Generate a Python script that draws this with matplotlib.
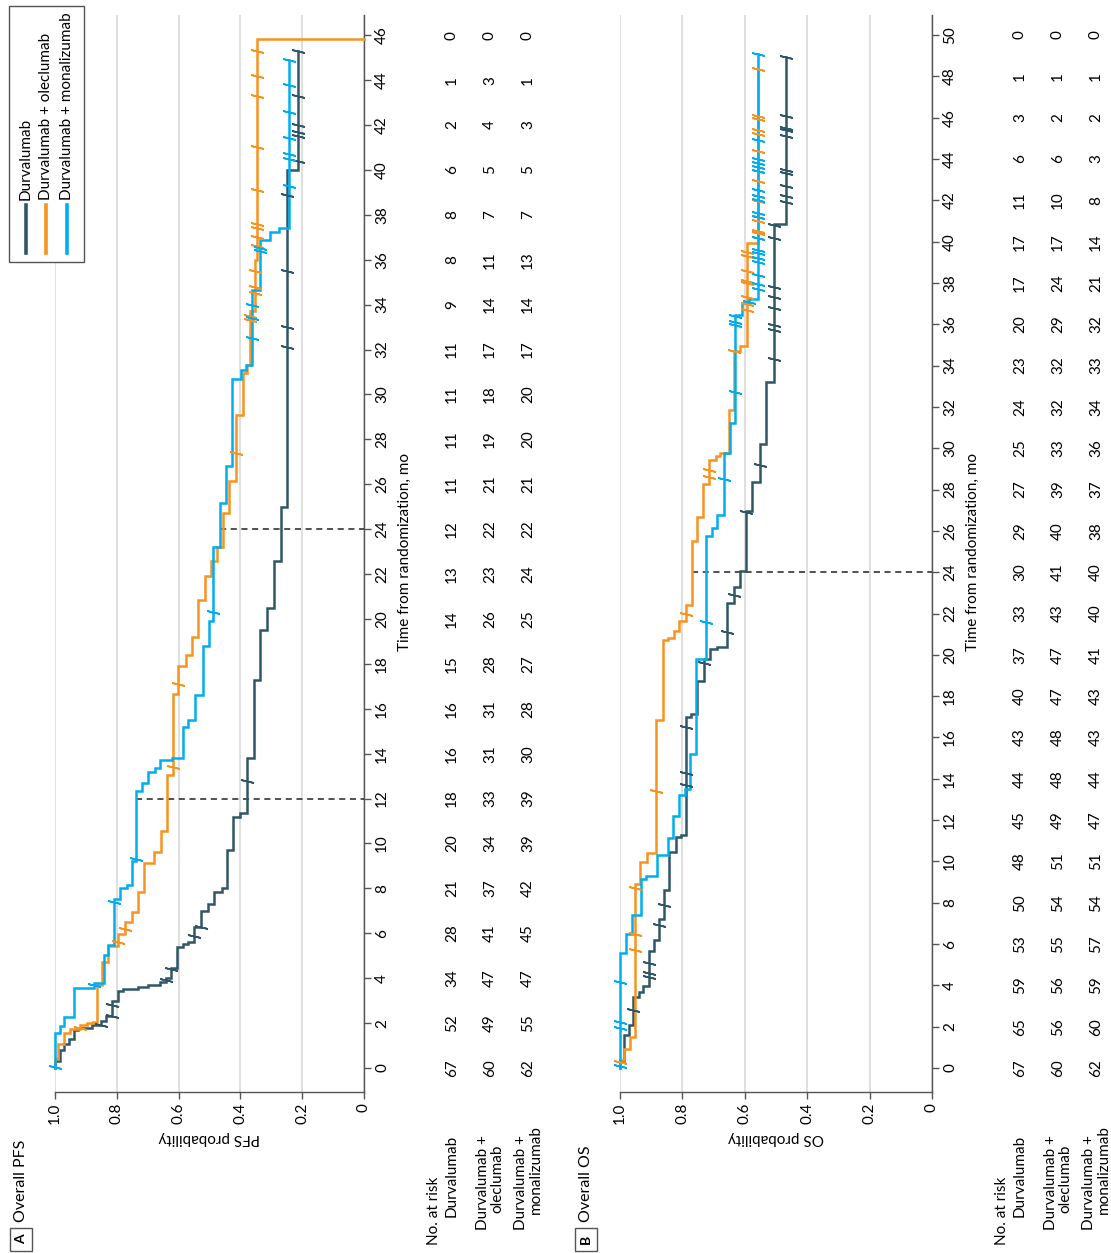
import numpy as np
import matplotlib
matplotlib.use('Agg')
import matplotlib.pyplot as plt
from matplotlib import font_manager, transforms
from matplotlib.patches import Rectangle
from matplotlib.lines import Line2D

# pick the font closest to the reference face
names = {f.name for f in font_manager.fontManager.ttflist}
fam = next(n for n in ['Lato', 'Roboto', 'DejaVu Sans'] if n in names)
plt.rcParams['font.family'] = [fam, 'DejaVu Sans']
plt.rcParams['font.size'] = 11

DARK = '#2f5767'
ORANGE = '#f7931e'
BLUE = '#00aeef'
AXC = '#555555'

groups = ['Durvalumab', 'Durvalumab + oleclumab', 'Durvalumab + monalizumab']

# ---- Panel A: PFS ----
pfs_dur_t = [0.3, 0.8, 1.05, 1.3, 1.7, 1.8, 1.9, 2.1, 2.3, 3.0, 3.45, 3.5, 3.6, 3.7, 3.85, 4.0, 4.45,
             5.4, 5.5, 5.6, 6.3, 7.0, 7.3, 7.85, 8.0, 9.7, 11.2, 11.35, 13.8, 17.3, 19.5, 20.5,
             22.6, 25.0, 40.0]
pfs_dur_s = [0.985, 0.97, 0.955, 0.94, 0.925, 0.88, 0.85, 0.835, 0.815, 0.795, 0.78, 0.73, 0.70, 0.66,
             0.64, 0.625, 0.606, 0.585, 0.568, 0.55, 0.527, 0.504, 0.485, 0.461, 0.444, 0.425, 0.401,
             0.378, 0.356, 0.337, 0.313, 0.291, 0.27, 0.248, 0.212]
pfs_dur_c = [1.9, 2.3, 2.8, 3.9, 4.4, 5.9, 6.3, 12.8, 32.1, 33.0, 35.5, 38.9, 40.4, 41.5, 41.7, 42.0,
             43.3, 45.3]

pfs_ole_t = [0.39, 1.06, 1.58, 1.75, 1.9, 2.0, 2.05, 3.69, 4.7, 5.45, 5.97, 6.49, 6.93, 7.83, 9.14,
             9.61, 10.55, 13.04, 16.64, 17.92, 18.39, 19.21, 20.85, 21.9, 22.6, 23.2, 24.7, 26.15,
             29.07, 30.97, 31.3, 33.7, 36.0, 45.85]
pfs_ole_s = [0.99, 0.97, 0.951, 0.92, 0.895, 0.878, 0.863, 0.849, 0.827, 0.795, 0.773, 0.752, 0.733,
             0.712, 0.68, 0.658, 0.639, 0.617, 0.601, 0.576, 0.558, 0.536, 0.515, 0.496, 0.477, 0.457,
             0.436, 0.414, 0.393, 0.38, 0.369, 0.353, 0.345, 0.0]
pfs_ole_c = [1.8, 5.6, 6.2, 13.4, 17.1, 27.4, 33.3, 33.5, 34.5, 34.8, 35.5, 36.6, 37.0, 37.4, 37.6,
             39.1, 41.0, 43.3, 44.2, 45.3]

pfs_mon_t = [1.58, 1.88, 2.29, 3.54, 3.78, 5.03, 5.48, 7.53, 8.0, 8.15, 9.24, 12.33, 12.7, 13.18,
             13.34, 13.7, 13.8, 15.18, 15.48, 16.61, 18.8, 19.9, 23.2, 25.17, 26.8, 30.67, 31.08,
             31.3, 34.63, 36.87, 37.23, 37.4]
pfs_mon_s = [0.985, 0.97, 0.94, 0.873, 0.843, 0.827, 0.808, 0.789, 0.768, 0.752, 0.738, 0.717, 0.698,
             0.676, 0.66, 0.622, 0.585, 0.569, 0.547, 0.52, 0.501, 0.488, 0.466, 0.447, 0.426, 0.399,
             0.382, 0.364, 0.337, 0.304, 0.274, 0.242]
pfs_mon_c = [0.05, 3.7, 7.4, 9.3, 20.3, 32.5, 33.4, 34.0, 36.4, 36.5, 39.3, 40.5, 40.7, 41.4, 42.6,
             43.8, 44.9]

pfs_ends = [45.3, 45.85, 44.9]
pfs_months = list(range(0, 47, 2))
pfs_risk_dur = [67, 52, 34, 28, 21, 20, 18, 16, 16, 15, 14, 13, 12, 11, 11, 11, 11, 9, 8, 8, 6, 2, 1, 0]
pfs_risk_ole = [60, 49, 47, 41, 37, 34, 33, 31, 31, 28, 26, 23, 22, 21, 19, 18, 17, 14, 11, 7, 5, 4, 3, 0]
pfs_risk_mon = [62, 55, 47, 45, 42, 39, 39, 30, 28, 27, 25, 24, 22, 21, 20, 20, 17, 14, 13, 7, 5, 3, 1, 0]

# ---- Panel B: OS ----
os_dur_t = [0.34, 1.58, 2.09, 3.45, 3.69, 3.96, 5.66, 6.21, 7.23, 8.62, 10.46, 11.17, 11.28, 17.0,
            17.14, 18.71, 19.78, 20.29, 20.36, 22.53, 23.3, 24.06, 26.95, 28.37, 30.2, 33.2, 40.87]
os_dur_s = [0.987, 0.97, 0.957, 0.938, 0.925, 0.907, 0.89, 0.875, 0.859, 0.842, 0.82, 0.803, 0.79,
            0.773, 0.754, 0.73, 0.713, 0.689, 0.657, 0.636, 0.615, 0.595, 0.577, 0.55, 0.531, 0.507,
            0.467]
os_dur_c = [2.8, 4.4, 4.6, 5.1, 6.9, 7.9, 13.7, 14.3, 16.5, 19.6, 21.1, 22.9, 26.9, 29.2, 34.3, 35.7,
            35.95, 36.8, 37.3, 37.8, 40.2, 40.8, 41.9, 42.2, 42.7, 43.3, 43.45, 45.1, 45.4, 45.5,
            46.1, 48.95]

os_ole_t = [0.39, 0.94, 1.48, 8.93, 9.95, 10.41, 16.84, 20.7, 20.8, 21.14, 21.65, 22.4, 25.53, 26.67,
            28.28, 29.45, 29.62, 29.78, 31.87, 34.73, 34.95, 39.95]
os_ole_s = [0.987, 0.968, 0.952, 0.936, 0.912, 0.884, 0.861, 0.845, 0.827, 0.811, 0.789, 0.77, 0.754,
            0.734, 0.716, 0.692, 0.679, 0.652, 0.636, 0.615, 0.593, 0.559]
os_ole_c = [0.29, 5.7, 6.5, 8.7, 13.4, 22.0, 28.6, 28.95, 34.7, 36.7, 37.0, 37.3, 38.0, 38.1, 38.6,
            39.3, 39.5, 40.2, 40.4, 40.5, 41.0, 41.2, 41.95, 42.2, 42.95, 43.4, 44.4, 45.2, 45.4,
            45.95, 46.1, 48.37]

os_mon_t = [5.56, 6.51, 7.43, 9.13, 9.3, 10.32, 11.14, 12.19, 13.21, 13.52, 15.19, 19.78, 25.73,
            26.12, 26.78, 29.78, 31.23, 36.45, 37.03, 37.2]
os_mon_s = [0.981, 0.963, 0.934, 0.917, 0.88, 0.845, 0.829, 0.811, 0.792, 0.775, 0.757, 0.724, 0.706,
            0.689, 0.668, 0.649, 0.631, 0.61, 0.588, 0.559]
os_mon_c = [0.08, 1.96, 2.21, 4.17, 21.6, 28.5, 32.7, 35.95, 36.1, 36.4, 37.1, 37.7, 37.95, 38.4, 39.0,
            39.2, 39.45, 39.6, 40.2, 41.2, 41.4, 42.0, 42.2, 42.5, 43.4, 43.6, 43.8, 44.0, 44.9, 49.07]

os_ends = [48.95, 48.37, 49.07]
os_months = list(range(0, 51, 2))
os_risk_dur = [67, 65, 59, 53, 50, 48, 45, 44, 43, 40, 37, 33, 30, 29, 27, 25, 24, 23, 20, 17, 17, 11, 6, 3, 1, 0]
os_risk_ole = [60, 56, 56, 55, 54, 51, 49, 48, 48, 47, 47, 43, 41, 40, 39, 33, 32, 32, 29, 24, 17, 10, 6, 2, 1, 0]
os_risk_mon = [62, 60, 59, 57, 54, 51, 47, 44, 43, 43, 41, 40, 40, 38, 37, 36, 34, 33, 32, 21, 14, 8, 3, 2, 1, 0]

W, H = 1111, 1253
fig = plt.figure(figsize=(W / 100, H / 100), dpi=100)


def fx(x):
    return x / W


def fy(y):
    return 1 - y / H


def surv_at(times, surv, t):
    i = np.searchsorted(times, t, side='right')
    return 1.0 if i == 0 else surv[i - 1]


def draw_km(ax, times, surv, cens, t_end, color):
    tt = np.concatenate([[0], np.repeat(times, 2), [t_end]])
    ss = np.concatenate([[1.0, 1.0], np.repeat(surv, 2)])
    ax.plot(ss, tt, color=color, lw=1.8, clip_on=False, zorder=3, solid_joinstyle='miter')
    cs = [surv_at(times, surv, c) for c in cens]
    ax.plot(cs, cens, ls='none', marker=(2, 2, 77), ms=9.5, mew=1.2, color=color,
            clip_on=False, zorder=4)


def panel(left, right, tmin, tmax, months, curves, ends, risks, dash_times, letter, title, ylab):
    ax = fig.add_axes([fx(left), fy(1092), fx(right) - fx(left), (1092 - 15) / H])
    ax.set_xlim(1.0, 0)
    ax.set_ylim(tmin, tmax)
    for s in ['left', 'top']:
        ax.spines[s].set_visible(False)
    for s in ['bottom', 'right']:
        ax.spines[s].set_color(AXC)
        ax.spines[s].set_linewidth(1.0)
    ax.yaxis.tick_right()
    ax.set_yticks(months)
    ax.set_xticks([0, 0.2, 0.4, 0.6, 0.8, 1.0])
    ax.set_xticklabels(['0', '0.2', '0.4', '0.6', '0.8', '1.0'])
    ax.tick_params(axis='x', labelrotation=90, length=5, width=1, color=AXC, pad=3)
    ax.tick_params(axis='y', labelrotation=90, length=5, width=1, color=AXC, pad=3)
    for lab in ax.get_yticklabels():
        lab.set_va('center')
    ax.grid(axis='x', color='#dcdcdc', lw=1.3)
    ax.grid(axis='y', visible=False)
    ax.set_axisbelow(True)

    cols = [DARK, ORANGE, BLUE]
    for (t, s, c), e, col in zip(curves, ends, cols):
        draw_km(ax, t, s, c, e, col)

    for dt in dash_times:
        top = max(surv_at(t, s, dt) for t, s, c in curves)
        ax.plot([top, 0], [dt, dt], color='#222222', lw=1.1, ls=(0, (4, 3)), zorder=2)

    axr = right
    blend = transforms.blended_transform_factory(fig.transFigure, ax.transData)
    for off, vals in zip([88, 126, 164], risks):
        for m, v in zip(months, vals):
            fig.text(fx(axr + off), m, str(v), transform=blend, rotation=90,
                     ha='center', va='center')

    fig.text(fx(axr + 41), months[-1] / 2, 'Time from randomization, mo', rotation=90,
             ha='center', va='center', transform=blend)

    fig.text(fx((left + right) / 2), fy(1138), ylab, rotation=180, ha='center', va='center')

    # number-at-risk row labels
    fig.text(fx(axr + 70), fy(1245), 'No. at risk', rotation=90, ha='center', va='bottom')
    fig.text(fx(axr + 88), fy(1135), 'Durvalumab', rotation=90, ha='center', va='top')
    fig.text(fx(axr + 119), fy(1135), 'Durvalumab +', rotation=90, ha='center', va='top')
    fig.text(fx(axr + 133), fy(1145), 'oleclumab', rotation=90, ha='center', va='top')
    fig.text(fx(axr + 157), fy(1135), 'Durvalumab +', rotation=90, ha='center', va='top')
    fig.text(fx(axr + 172), fy(1125), 'monalizumab', rotation=90, ha='center', va='top')

    # panel header
    bx = left - 45
    fig.patches.append(Rectangle((fx(bx), fy(1251)), fx(22), 23 / H, transform=fig.transFigure,
                                 fill=False, edgecolor=AXC, lw=1.0))
    fig.text(fx(bx + 11), fy(1239.5), letter, rotation=90, ha='center', va='center',
             fontweight='bold', fontsize=10)
    fig.text(fx(bx + 11), fy(1222), title, rotation=90, ha='center', va='bottom', fontsize=11.5)
    return ax


panel(55, 364, -1.07, 46.9, pfs_months,
      [(pfs_dur_t, pfs_dur_s, pfs_dur_c), (pfs_ole_t, pfs_ole_s, pfs_ole_c),
       (pfs_mon_t, pfs_mon_s, pfs_mon_c)],
      pfs_ends, [pfs_risk_dur, pfs_risk_ole, pfs_risk_mon], [12, 24],
      'A', 'Overall PFS', 'PFS probability')

panel(620, 932, -1.16, 50.97, os_months,
      [(os_dur_t, os_dur_s, os_dur_c), (os_ole_t, os_ole_s, os_ole_c),
       (os_mon_t, os_mon_s, os_mon_c)],
      os_ends, [os_risk_dur, os_risk_ole, os_risk_mon], [24],
      'B', 'Overall OS', 'OS probability')

# legend, drawn by hand so it can stand on its side
fig.patches.append(Rectangle((fx(9), fy(262)), fx(75), 256 / H, transform=fig.transFigure,
                             facecolor='white', edgecolor=AXC, lw=1.0, zorder=5))
for x, lab, col in zip([26, 46, 67], groups, [DARK, ORANGE, BLUE]):
    fig.lines.append(Line2D([fx(x), fx(x)], [fy(253), fy(205)], transform=fig.transFigure,
                            color=col, lw=2.6, zorder=6))
    fig.text(fx(x), fy(200), lab, rotation=90, ha='center', va='bottom', zorder=6)

fig.savefig('out.png', dpi=100)
